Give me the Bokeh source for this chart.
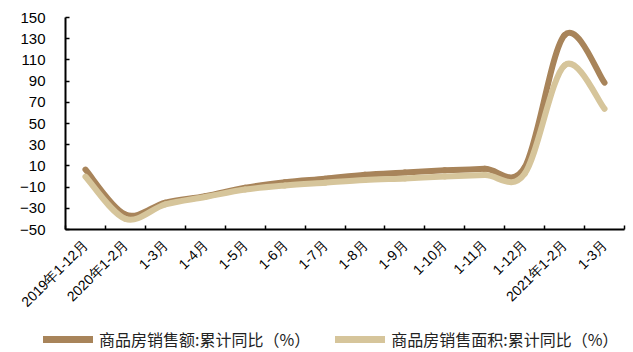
import numpy as np
from bokeh.plotting import figure
from bokeh.layouts import column, row
from bokeh.models import (Range1d, FixedTicker, CustomJSTickFormatter, Legend,
                          LegendItem, ColumnDataSource)
from bokeh.embed import file_html
from bokeh.resources import INLINE
import math

categories = ["2019年1-12月", "2020年1-2月", "1-3月", "1-4月", "1-5月", "1-6月",
              "1-7月", "1-8月", "1-9月", "1-10月", "1-11月", "1-12月",
              "2021年1-2月", "1-3月"]
sales_amount = [6.5, -35.9, -24.7, -18.6, -10.6, -5.4, -2.1, 1.6, 3.7, 5.8,
                7.2, 8.7, 133.4, 88.5]
sales_area = [-0.1, -39.9, -26.3, -19.3, -12.3, -8.4, -5.8, -3.3, -1.8, 0.0,
              1.3, 2.6, 104.9, 63.8]
y_ticks = list(range(-50, 151, 20))
series_names = ["商品房销售额:累计同比（%）", "商品房销售面积:累计同比（%）"]

C_AMOUNT = "#A8845A"
C_AREA = "#D6C59B"
AX_FONT = "Liberation Sans"
CJK_FONT = "Noto Sans CJK SC"

n = len(categories)
xs = [i + 0.5 for i in range(n)]


def bezier_source(xv, yv, f=1.0 / 6.0):
    """Excel-like smoothed line: cubic Bezier segments through the points."""
    d = dict(x0=[], y0=[], x1=[], y1=[], cx0=[], cy0=[], cx1=[], cy1=[])
    m = len(xv)
    for i in range(m - 1):
        a = i - 1 if i > 0 else i
        b = i + 2 if i + 2 < m else i + 1
        d["x0"].append(xv[i]); d["y0"].append(yv[i])
        d["x1"].append(xv[i + 1]); d["y1"].append(yv[i + 1])
        d["cx0"].append(xv[i] + (xv[i + 1] - xv[a]) * f)
        d["cy0"].append(yv[i] + (yv[i + 1] - yv[a]) * f)
        d["cx1"].append(xv[i + 1] - (xv[b] - xv[i]) * f)
        d["cy1"].append(yv[i + 1] - (yv[b] - yv[i]) * f)
    return ColumnDataSource(d)


p = figure(width=633, height=318, x_range=Range1d(0, n), y_range=Range1d(-50, 150),
           output_backend="svg", toolbar_location=None,
           min_border_left=65, min_border_right=9, min_border_top=17,
           min_border_bottom=89)
p.outline_line_color = None
p.xgrid.grid_line_color = None
p.ygrid.grid_line_color = None
p.background_fill_color = "white"
p.border_fill_color = "white"

LW = 6
p.bezier(x0="x0", y0="y0", x1="x1", y1="y1", cx0="cx0", cy0="cy0", cx1="cx1",
         cy1="cy1", source=bezier_source(xs, sales_amount), line_color=C_AMOUNT,
         line_width=LW, line_cap="round")
p.bezier(x0="x0", y0="y0", x1="x1", y1="y1", cx0="cx0", cy0="cy0", cx1="cx1",
         cy1="cy1", source=bezier_source(xs, sales_area), line_color=C_AREA,
         line_width=LW, line_cap="round")

# x axis
xa = p.xaxis[0]
xa.ticker = FixedTicker(ticks=xs, minor_ticks=list(range(n + 1)))
xa.formatter = CustomJSTickFormatter(args=dict(labels=categories),
                                     code="return labels[Math.round(tick - 0.5)];")
xa.major_tick_line_color = None
xa.minor_tick_in = 4
xa.minor_tick_out = 0
xa.minor_tick_line_color = "black"
xa.minor_tick_line_width = 1.5
xa.axis_line_width = 2
xa.axis_line_color = "black"
xa.major_label_orientation = math.pi / 4
xa.major_label_standoff = 7
xa.major_label_text_font = AX_FONT
xa.major_label_text_font_size = "14px"
xa.major_label_text_color = "black"

# y axis
ya = p.yaxis[0]
ya.ticker = FixedTicker(ticks=y_ticks)
ya.major_tick_in = 4
ya.major_tick_out = 0
ya.minor_tick_line_color = None
ya.major_tick_line_width = 1.5
ya.axis_line_width = 2
ya.axis_line_color = "black"
ya.major_label_standoff = 20
ya.major_label_text_font = AX_FONT
ya.major_label_text_font_size = "15px"
ya.major_label_text_color = "black"

# legend strip below the chart (its own view; series kept out of its ranges)
lg = figure(width=633, height=34, x_range=Range1d(0, 1), y_range=Range1d(1000, 1001),
            output_backend="svg", toolbar_location=None,
            x_axis_location=None, y_axis_location=None,
            min_border_left=0, min_border_right=0, min_border_top=0,
            min_border_bottom=0)
lg.xgrid.grid_line_color = None
lg.ygrid.grid_line_color = None
lg.outline_line_color = None
lg.background_fill_color = "white"
lg.border_fill_color = "white"
r1 = lg.line(x=xs, y=sales_amount, line_color=C_AMOUNT, line_width=7, line_cap="round")
r2 = lg.line(x=xs, y=sales_area, line_color=C_AREA, line_width=7, line_cap="round")
legend = Legend(items=[LegendItem(label=series_names[0], renderers=[r1]),
                       LegendItem(label=series_names[1], renderers=[r2])],
                orientation="horizontal", location=(43, 1),
                glyph_width=50, glyph_height=16, label_height=16,
                label_standoff=6, spacing=25, padding=0, margin=0,
                border_line_color=None, background_fill_alpha=0,
                label_text_font=CJK_FONT, label_text_font_size="16px",
                label_text_color="#222222")
lg.add_layout(legend)

layout = column(p, row(lg, spacing=0), spacing=0)
open("out.html", "w").write(file_html(layout, INLINE))
